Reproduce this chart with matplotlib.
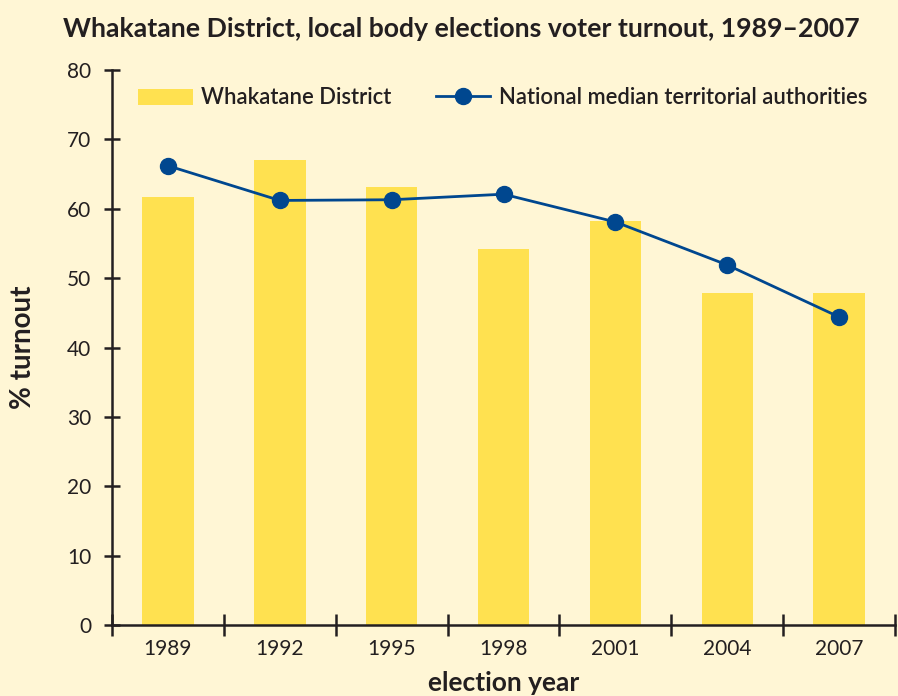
import matplotlib.pyplot as plt
import numpy as np

# ------------------------------
# data
# ------------------------------
years = ['1989', '1992', '1995', '1998', '2001', '2004', '2007']
whakatane = [61.7, 67.0, 63.1, 54.2, 58.2, 47.9, 47.9]
national_median = [66.2, 61.2, 61.3, 62.1, 58.1, 51.9, 44.4]
y_ticks = [0, 10, 20, 30, 40, 50, 60, 70, 80]

bg = '#FFF6D5'
bar_col = '#FFE150'
line_col = '#00478F'
text_col = '#231F20'

plt.rcParams['font.family'] = ['Lato', 'DejaVu Sans']

fig = plt.figure(figsize=(8.98, 6.96), dpi=100, facecolor=bg)
ax = fig.add_axes([0.1247, 0.102, 0.872, 0.7974], facecolor=bg)

x = np.arange(len(years))
bars = ax.bar(x, whakatane, width=0.46, color=bar_col, label='Whakatane District', zorder=1)
line, = ax.plot(x, national_median, color=line_col, lw=2.0, marker='o', markersize=11.5,
                label='National median territorial authorities', zorder=3)

ax.set_xlim(-0.5, len(years) - 0.5)
ax.set_ylim(0, 80)

# spines
for s in ['top', 'right']:
    ax.spines[s].set_visible(False)
for s in ['left', 'bottom']:
    ax.spines[s].set_linewidth(1.8)
    ax.spines[s].set_color(text_col)
    ax.spines[s].set_zorder(4)

# y ticks cross the axis
ax.set_yticks(y_ticks)
ax.tick_params(axis='y', direction='inout', length=12, width=1.8, color=text_col,
               labelsize=15, labelcolor=text_col, pad=9)

# x: labels at centres, ticks at category boundaries
ax.set_xticks(x)
ax.set_xticklabels(years)
ax.set_xticks(np.arange(-0.5, len(years) + 0.5, 1), minor=True)
ax.tick_params(axis='x', which='major', length=0, labelsize=15, labelcolor=text_col, pad=10)
ax.tick_params(axis='x', which='minor', direction='inout', length=16, width=1.8, color=text_col)

ax.set_xlabel('election year', fontsize=19, fontweight='bold', color=text_col, labelpad=9)
ax.set_ylabel('% turnout', fontsize=20, fontweight='bold', color=text_col, labelpad=22)

fig.text(0.514, 0.959, 'Whakatane District, local body elections voter turnout, 1989\u20132007',
         ha='center', va='center', fontsize=19.2, fontweight='bold', color=text_col)

ax.legend([bars, line], ['Whakatane District', 'National median territorial authorities'],
          loc='upper left', ncol=2, frameon=False,
          prop={'size': 15.8, 'weight': 'semibold'},
          bbox_to_anchor=(0.033, 0.969), borderaxespad=0, borderpad=0,
          handlelength=2.5, handleheight=0.75, columnspacing=2.0,
          handletextpad=0.4, labelcolor=text_col)

fig.savefig('out.png', dpi=100, facecolor=bg)
